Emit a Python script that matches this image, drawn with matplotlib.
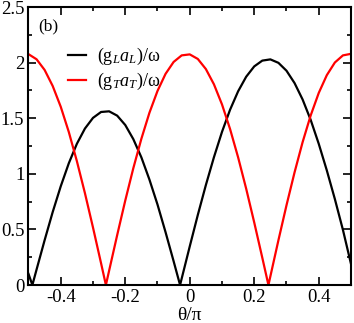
import matplotlib
matplotlib.use('Agg')
import matplotlib.pyplot as plt
from matplotlib.ticker import MultipleLocator, FuncFormatter

plt.rcParams['font.family'] = 'Liberation Serif'
plt.rcParams['mathtext.fontset'] = 'custom'
plt.rcParams['mathtext.rm'] = 'Liberation Serif'
plt.rcParams['mathtext.it'] = 'Liberation Serif:italic'
plt.rcParams['axes.unicode_minus'] = False

# values
theta_L = [-0.5, -0.488, -0.475, -0.45, -0.425, -0.4, -0.375, -0.35, -0.325, -0.3,
           -0.275, -0.25, -0.225, -0.2, -0.175, -0.15, -0.125, -0.1, -0.075, -0.05,
           -0.03, -0.025, 0.0, 0.025, 0.05, 0.075, 0.1, 0.125, 0.15, 0.175, 0.2,
           0.225, 0.25, 0.275, 0.3, 0.325, 0.35, 0.375, 0.4, 0.425, 0.45, 0.475, 0.5]
gL = [0.10, 0.0, 0.139, 0.403, 0.656, 0.888, 1.095, 1.270, 1.407, 1.503,
      1.556, 1.562, 1.523, 1.439, 1.312, 1.148, 0.948, 0.724, 0.475, 0.214,
      0.0, 0.058, 0.347, 0.630, 0.899, 1.149, 1.377, 1.576, 1.742, 1.873, 1.966,
      2.018, 2.029, 1.998, 1.927, 1.816, 1.668, 1.485, 1.270, 1.031, 0.773, 0.496, 0.19]

theta_T = [-0.5, -0.475, -0.45, -0.425, -0.4, -0.375, -0.35, -0.325, -0.3, -0.275,
           -0.26, -0.25, -0.225, -0.2, -0.175, -0.15, -0.125, -0.1, -0.075, -0.05,
           -0.025, 0.0, 0.025, 0.05, 0.075, 0.1, 0.125, 0.15, 0.175, 0.2, 0.225,
           0.244, 0.25, 0.275, 0.3, 0.325, 0.35, 0.375, 0.4, 0.425, 0.45, 0.475, 0.5]
gT = [2.076, 2.030, 1.934, 1.790, 1.603, 1.376, 1.114, 0.826, 0.517, 0.196,
      0.0, 0.129, 0.449, 0.759, 1.050, 1.315, 1.549, 1.745, 1.899, 2.006,
      2.065, 2.074, 2.033, 1.942, 1.805, 1.624, 1.403, 1.148, 0.866, 0.562, 0.245,
      0.0, 0.078, 0.403, 0.717, 1.013, 1.285, 1.525, 1.727, 1.887, 2.001, 2.065, 2.079]

fig = plt.figure(figsize=(3.54, 3.23), dpi=100)
ax = fig.add_axes([0.0805, 0.1176, 0.911, 0.8607])

ax.plot(theta_L, gL, color='black', lw=1.6, label=r'$(\mathrm{g}_{\mathit{L}}\mathit{a}_{\mathit{L}})/\mathrm{ω}$')
ax.plot(theta_T, gT, color='red', lw=1.6, label=r'$(\mathrm{g}_{\mathit{T}}\mathit{a}_{\mathit{T}})/\mathrm{ω}$')

ax.set_xlim(-0.5, 0.5)
ax.set_ylim(0, 2.5)
ax.xaxis.set_major_locator(MultipleLocator(0.2))
ax.xaxis.set_minor_locator(MultipleLocator(0.1))
ax.yaxis.set_major_locator(MultipleLocator(0.5))
ax.yaxis.set_minor_locator(MultipleLocator(0.25))
ax.xaxis.set_major_formatter(FuncFormatter(lambda v, p: '0' if abs(v) < 1e-9 else '%g' % v))
ax.yaxis.set_major_formatter(FuncFormatter(lambda v, p: '%g' % v))

ax.tick_params(which='both', direction='in', top=True, right=True, labelsize=13.5, width=1.2)
ax.tick_params(which='major', length=6, pad=3)
ax.tick_params(which='minor', length=3)
for s in ax.spines.values():
    s.set_linewidth(1.5)

ax.set_xlabel('θ/π', fontsize=14, labelpad=0.5)
ax.text(0.03, 0.915, '(b)', transform=ax.transAxes, fontsize=12.5)

ax.legend(loc='upper left', bbox_to_anchor=(0.10, 0.885), frameon=False, fontsize=13,
          handlelength=1.0, handletextpad=0.6, labelspacing=0.2, borderaxespad=0)

plt.savefig('out.png', dpi=100)
